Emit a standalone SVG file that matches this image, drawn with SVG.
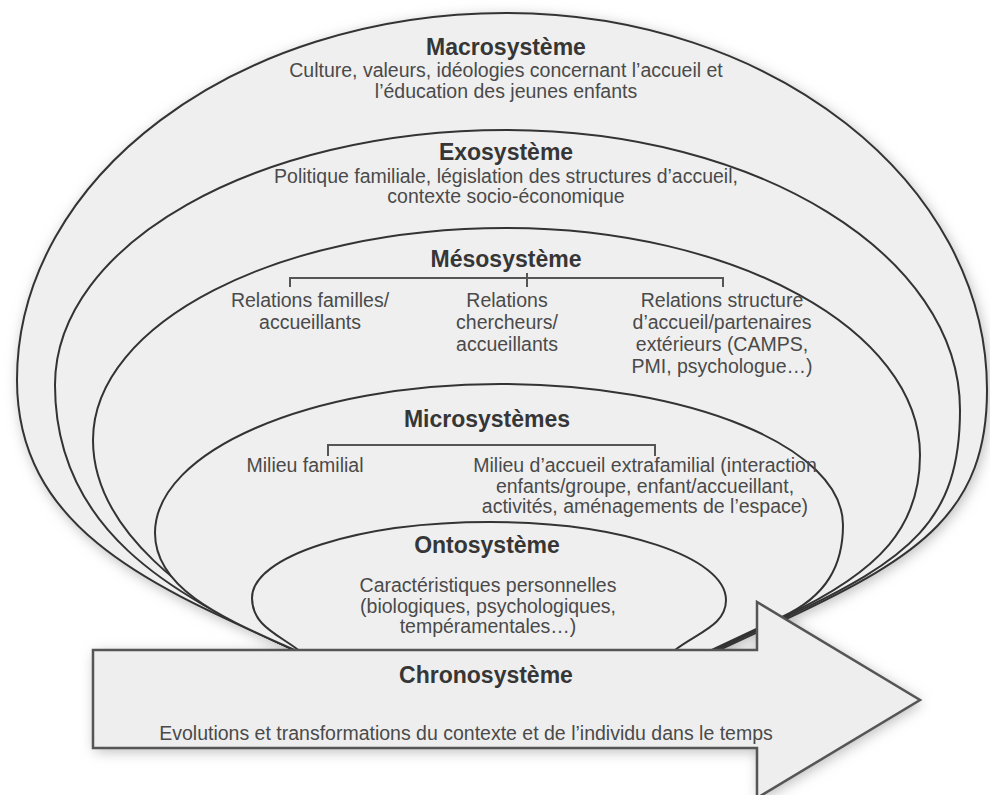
<svg xmlns="http://www.w3.org/2000/svg" width="990" height="795" viewBox="0 0 990 795">
<defs>
<style>
.shape{fill:#efefef;stroke:#333;stroke-width:2;}
.arrow{fill:#eeeeee;stroke:#555;stroke-width:2.5;stroke-linejoin:miter;}
.h{font-family:"Liberation Sans",Arial,sans-serif;font-weight:bold;font-size:23px;fill:#363636;text-anchor:middle;}
.t{font-family:"Liberation Sans",Arial,sans-serif;font-size:19.5px;fill:#4a4a4a;text-anchor:middle;}
.br{fill:none;stroke:#555;stroke-width:2;}
</style>
<filter id="shadow" x="-10%" y="-10%" width="120%" height="120%">
<feGaussianBlur stdDeviation="7"/>
</filter>
</defs>
<rect width="990" height="795" fill="#ffffff"/>
<g id="shadow-layer" filter="url(#shadow)" fill="#b8b8b8" transform="translate(2,3)">
<path d="M326,664 L290,648 C153.5,586.5 17,530 17,380 C17,177 236,13 506,13 C771.5,13 987,182 987,390 C987,510 922,555.5 786,619 L686,665.5 Z"/>
<path d="M93,650 H757 V602 L920,700 L757,798 V748 H93 Z"/>
</g>
<g id="macro">
<path class="shape" d="M326,664 L290,648 C153.5,586.5 17,530 17,380 C17,177 236,13 506,13 C771.5,13 987,182 987,390 C987,510 922,555.5 786,619 L686,665.5 Z"/>
<text class="h" x="506" y="55">Macrosystème</text>
<text class="t" x="506" y="77">Culture, valeurs, idéologies concernant l’accueil et</text>
<text class="t" x="506" y="98">l’éducation des jeunes enfants</text>
</g>
<g id="exo">
<path class="shape" d="M326,664 L290,648 C171.7,594.7 55,530 55,385 C55,244 257,130 506,130 C757,130 960,255 960,410 C960,520 911,559 784,618 L684,665 Z"/>
<text class="h" x="506" y="160">Exosystème</text>
<text class="t" x="506" y="183">Politique familiale, législation des structures d’accueil,</text>
<text class="t" x="506" y="203">contexte socio-économique</text>
</g>
<g id="meso">
<path class="shape" d="M326,664 L290,648 C190,603 93,530 93,440 C93,323 278,228 506,228 C734.5,228 920,330 920,455 C920,525 882.7,570.5 783,617 L683,664 Z"/>
<text class="h" x="506" y="267">Mésosystème</text>
<text class="t" x="310" y="307">Relations familles/</text>
<text class="t" x="310" y="329">accueillants</text>
<text class="t" x="507" y="307">Relations</text>
<text class="t" x="507" y="329">chercheurs/</text>
<text class="t" x="507" y="351">accueillants</text>
<text class="t" x="722" y="307">Relations structure</text>
<text class="t" x="722" y="329">d’accueil/partenaires</text>
<text class="t" x="722" y="351">extérieurs (CAMPS,</text>
<text class="t" x="722" y="373">PMI, psychologue…)</text>
</g>
<g id="micro">
<path class="shape" d="M326,664 L290,648 C226,619 155,590 155,533 C155,451 310,384 500,384 C689,384 843,447 843,525 C843,565 827,596 782,617 L682,664 Z"/>
<text class="h" x="487" y="427">Microsystèmes</text>
<text class="t" x="305" y="472">Milieu familial</text>
<text class="t" x="645" y="472">Milieu d’accueil extrafamilial (interaction</text>
<text class="t" x="645" y="493">enfants/groupe, enfant/accueillant,</text>
<text class="t" x="645" y="513">activités, aménagements de l’espace)</text>
</g>
<g id="onto">
<path class="shape" d="M316,668 L297,649 C277,634 252,625 252,598 C252,556 359,522 490,522 C620,522 726,557 726,600 C726,625 699,632 675,650 L655,665 Z"/>
<text class="h" x="487" y="553">Ontosystème</text>
<text class="t" x="488" y="592">Caractéristiques personnelles</text>
<text class="t" x="488" y="613">(biologiques, psychologiques,</text>
<text class="t" x="488" y="633">tempéramentales…)</text>
</g>
<g id="chrono">
<path class="arrow" d="M93,650 H757 V602 L920,700 L757,798 V748 H93 Z"/>
<text class="h" x="486" y="683">Chronosystème</text>
<text class="t" x="466" y="740">Evolutions et transformations du contexte et de l’individu dans le temps</text>
</g>
<g id="connectors">
<path class="br" d="M290,287 V278 H723 V287 M527,273 V287"/>
<path class="br" d="M328,456 V445 H655 V456"/>
</g>
</svg>
